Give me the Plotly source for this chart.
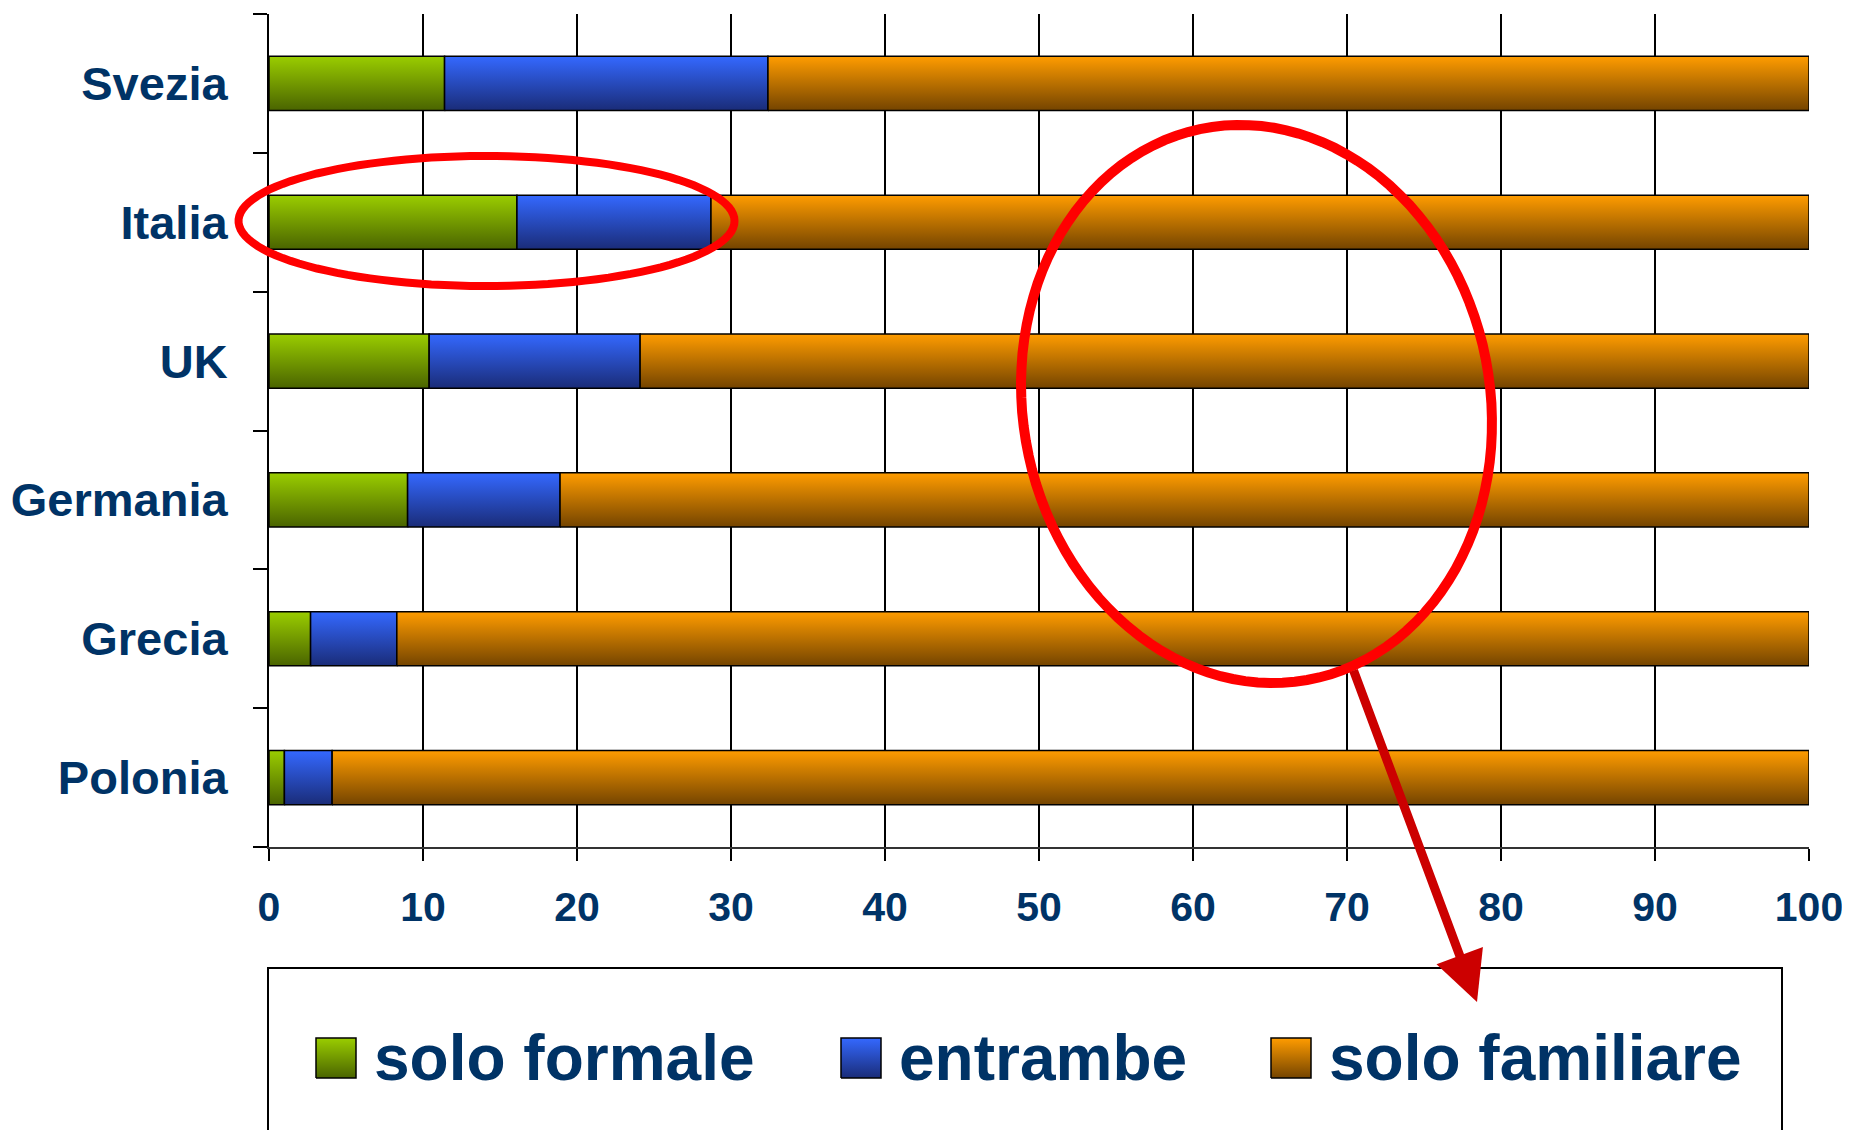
import numpy as np
import plotly.graph_objects as go

# ======================================================
# DATA (percentages)
# ======================================================
COUNTRIES = ["Svezia", "Italia", "UK", "Germania", "Grecia", "Polonia"]
SERIES_NAMES = ["solo formale", "entrambe", "solo familiare"]
SOLO_FORMALE = [11.4, 16.1, 10.4, 9.0, 2.7, 1.0]
ENTRAMBE = [21.0, 12.6, 13.7, 9.9, 5.6, 3.1]
SOLO_FAMILIARE = [67.6, 71.3, 75.9, 81.1, 91.7, 95.9]
X_TICKS = list(range(0, 101, 10))

# ======================================================
# STYLE
# ======================================================
OFF = 8                      # body margin of the html page
W, H = 1850 - OFF, 1138 - 2 * OFF   # keep page inside the window
NAVY = "#003366"
FONT = "Arial, Liberation Sans, sans-serif"
BAR_HALF = 0.195
COLORS = {
    "solo formale": ("#9ACD00", "#4A6400"),
    "entrambe": ("#3468FF", "#1A2C78"),
    "solo familiare": ("#FF9C00", "#744400"),
}


def gradient_rect(x0, x1, y0, y1, light, dark, xaxis="x", yaxis="y", **kw):
    # rectangle with vertical gradient: dark at y0, light at y1
    return go.Scatter(
        x=[x0, x1, x1, x0, x0],
        y=[y0, y0, y1, y1, y0],
        mode="lines",
        fill="toself",
        line=dict(color="black", width=1.5),
        fillgradient=dict(type="vertical", colorscale=[[0, dark], [1, light]],
                          start=y0, stop=y1),
        xaxis=xaxis,
        yaxis=yaxis,
        showlegend=False,
        **kw,
    )


fig = go.Figure()

# ------------------------------
# Stacked bars
# ------------------------------
ypos = list(range(len(COUNTRIES)))[::-1]  # Svezia on top
base = [0.0] * len(COUNTRIES)
for name, vals in zip(SERIES_NAMES, [SOLO_FORMALE, ENTRAMBE, SOLO_FAMILIARE]):
    light, dark = COLORS[name]
    for country, y, b, v in zip(COUNTRIES, ypos, base, vals):
        fig.add_trace(gradient_rect(
            b, b + v, y - BAR_HALF, y + BAR_HALF, light, dark,
            hoveron="fills", hoverinfo="text",
            text=f"{country} - {name}: {v}",
        ))
    base = [b + v for b, v in zip(base, vals)]

# ------------------------------
# Legend (drawn on a pixel-like overlay axis)
# ------------------------------
LEG_SQ_X = [316, 841, 1271]
LEG_TXT_X = [372, 897, 1327]
LEG_Y = 1058
for name, sx, tx in zip(SERIES_NAMES, LEG_SQ_X, LEG_TXT_X):
    light, dark = COLORS[name]
    fig.add_trace(gradient_rect(sx, sx + 40, LEG_Y + 20, LEG_Y - 20, light, dark,
                                xaxis="x2", yaxis="y2", hoverinfo="skip"))
    fig.add_annotation(
        x=tx, y=LEG_Y, xref="x2", yref="y2", text=name, showarrow=False,
        xanchor="left", yanchor="middle",
        font=dict(family=FONT, size=64, color=NAVY, weight="bold"),
    )

fig.add_shape(type="rect", xref="x2", yref="y2", x0=268, x1=1782, y0=968, y1=1160,
              line=dict(color="black", width=2), fillcolor="rgba(0,0,0,0)", layer="below")


# ------------------------------
# Red highlight ellipses + arrow
# ------------------------------
def ellipse_path(cx, cy, a, b, deg):
    t = np.linspace(0, 2 * np.pi, 120)
    th = np.radians(deg)
    ex, ey = a * np.cos(t), b * np.sin(t)
    px = cx + ex * np.cos(th) + ey * np.sin(th)
    py = cy - ex * np.sin(th) + ey * np.cos(th)
    return "M " + " L ".join(f"{u:.1f},{v:.1f}" for u, v in zip(px, py)) + " Z"


fig.add_shape(type="path", xref="x2", yref="y2",
              path=ellipse_path(486.5, 221, 248, 65, 0),
              line=dict(color="#FF0000", width=8))
fig.add_shape(type="path", xref="x2", yref="y2",
              path=ellipse_path(1256.5, 404, 233.6, 280.6, 11),
              line=dict(color="#FF0000", width=10))
fig.add_annotation(
    x=1477, y=1002, ax=1353, ay=669, xref="x2", yref="y2", axref="x2", ayref="y2",
    text="", showarrow=True, arrowhead=2, arrowsize=1.1, arrowwidth=9,
    arrowcolor="#CC0000", standoff=0,
)

# ------------------------------
# Layout
# ------------------------------
fig.update_layout(
    width=W,
    height=H,
    margin=dict(l=0, r=0, t=0, b=0, autoexpand=False),
    paper_bgcolor="white",
    plot_bgcolor="rgba(0,0,0,0)",
    showlegend=False,
    xaxis=dict(
        domain=[(269 - OFF) / W, (1809 - OFF) / W],
        range=[0, 100],
        tickvals=X_TICKS,
        showgrid=True, gridcolor="black", gridwidth=1.5,
        ticks="outside", ticklen=12, tickwidth=1.5, tickcolor="black",
        showline=True, linecolor="#333333", linewidth=2,
        zeroline=False,
        tickfont=dict(family=FONT, size=41, color=NAVY, weight="bold"),
        ticklabelstandoff=11,
        automargin=False,
        fixedrange=True,
    ),
    yaxis=dict(
        domain=[1 - (847 - OFF) / H, 1 - (14 - OFF) / H],
        range=[-0.5, len(COUNTRIES) - 0.5],
        tickvals=ypos,
        ticktext=COUNTRIES,
        ticks="outside", ticklen=14, tickcolor="rgba(0,0,0,0)",
        minor=dict(tickvals=[i - 0.5 for i in range(len(COUNTRIES) + 1)],
                   ticks="outside", ticklen=14, tickwidth=2, tickcolor="black",
                   showgrid=False),
        showgrid=False,
        showline=True, linecolor="black", linewidth=2,
        zeroline=False,
        tickfont=dict(family=FONT, size=47, color=NAVY, weight="bold"),
        ticklabelstandoff=16,
        automargin=False,
        fixedrange=True,
    ),
    # overlay axes in reference-pixel units, used for legend and markup
    xaxis2=dict(domain=[0, 1], range=[OFF, W + OFF], anchor="y2", visible=False,
                automargin=False, fixedrange=True),
    yaxis2=dict(domain=[0, 1], range=[H + OFF, OFF], anchor="x2", visible=False,
                automargin=False, fixedrange=True),
)

fig.write_html("out.html")
